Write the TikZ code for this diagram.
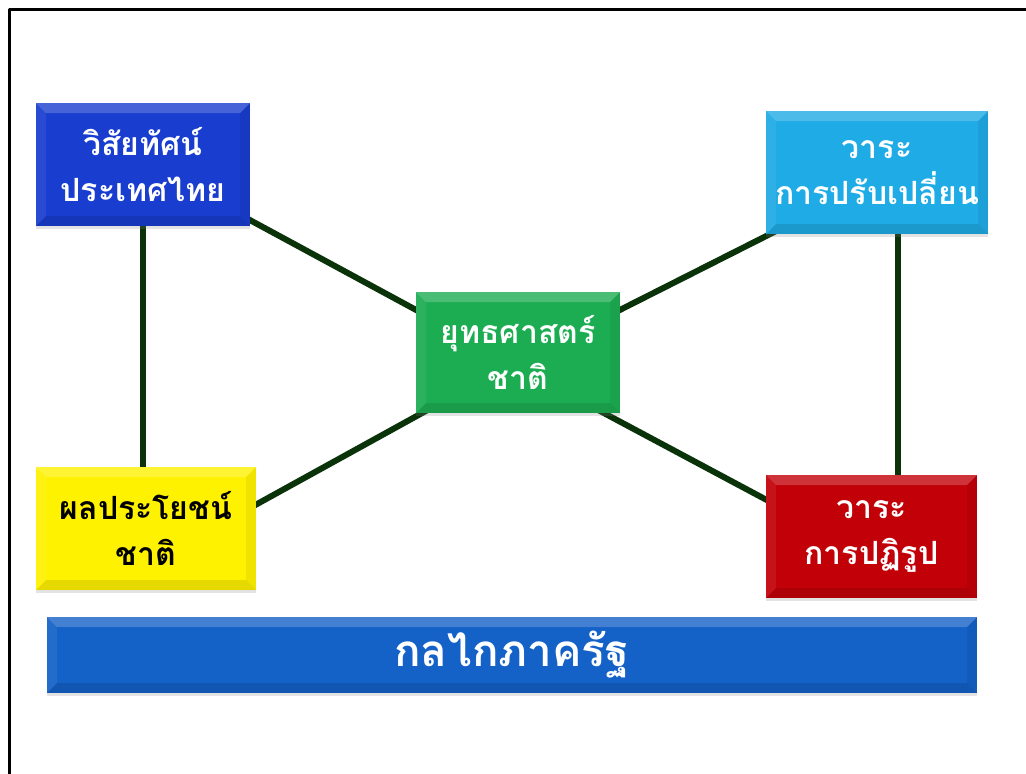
\documentclass[tikz,border=0pt]{standalone}
\usepackage{fontspec}
\usepackage{tikz}
\usetikzlibrary{calc}
\usetikzlibrary{shadows}
\usetikzlibrary{backgrounds}
\newfontfamily\thaifont[Script=Thai]{Loma}
\definecolor{qqzzcc}{rgb}{0.10,0.24,0.81}
\definecolor{qqaaee}{rgb}{0.12,0.67,0.90}
\definecolor{qqaass}{rgb}{0.11,0.68,0.32}
\definecolor{ffffqq}{rgb}{1.,0.95,0.}
\definecolor{ccqqqq}{rgb}{0.76,0.,0.03}
\definecolor{qqsscc}{rgb}{0.08,0.38,0.78}
\definecolor{qqzzqq}{rgb}{0.04,0.20,0.04}
\newcommand{\bevelfaces}{%
  \fill[white,opacity=.20] (path picture bounding box.north west) -- (path picture bounding box.north east) -- ([shift={(-10pt,-10pt)}]path picture bounding box.north east) -- ([shift={(10pt,-10pt)}]path picture bounding box.north west) -- cycle;
  \fill[black,opacity=.10] (path picture bounding box.south west) -- (path picture bounding box.south east) -- ([shift={(-10pt,10pt)}]path picture bounding box.south east) -- ([shift={(10pt,10pt)}]path picture bounding box.south west) -- cycle;
  \fill[white,opacity=.07] (path picture bounding box.north west) -- (path picture bounding box.south west) -- ([shift={(10pt,10pt)}]path picture bounding box.south west) -- ([shift={(10pt,-10pt)}]path picture bounding box.north west) -- cycle;
  \fill[black,opacity=.06] (path picture bounding box.north east) -- (path picture bounding box.south east) -- ([shift={(-10pt,10pt)}]path picture bounding box.south east) -- ([shift={(-10pt,-10pt)}]path picture bounding box.north east) -- cycle;
}
\tikzstyle{every node}=[font=\thaifont\bfseries]
\tikzstyle{tbox}=[rectangle,align=center,inner sep=0pt,text=white,path picture={\bevelfaces},drop shadow={shadow xshift=0pt,shadow yshift=-3pt,opacity=.22,fill=gray},font=\thaifont\bfseries\fontsize{32}{46}\selectfont]
\tikzstyle{link}=[line width=6pt,color=qqzzqq,shorten <=-8pt,shorten >=-8pt]

\begin{document}
\begin{tikzpicture}[line cap=butt,line join=round,x=1pt,y=-1pt]
\useasboundingbox (0,0) rectangle (1026,774);
\draw [line width=3pt] (9,790) -- (9,9) -- (1040,9);
\node [tbox,fill=qqzzcc,minimum width=214pt,minimum height=123pt] (vision) at (143,164.5) {วิสัยทัศน์\\ประเทศไทย};
\node [tbox,fill=qqaaee,minimum width=222pt,minimum height=123pt] (change) at (877,172.5) {วาระ\\การปรับเปลี่ยน};
\node [tbox,fill=qqaass,minimum width=204pt,minimum height=121pt] (strategy) at (518,352.5) {ยุทธศาสตร์\\ชาติ};
\node [tbox,fill=ffffqq,text=black,minimum width=220pt,minimum height=123pt] (benefit) at (146,528.5) {ผลประโยชน์\\ชาติ};
\node [tbox,fill=ccqqqq,minimum width=211pt,minimum height=123pt] (reform) at (871.5,536.5) {วาระ\\การปฏิรูป};
\node [tbox,fill=qqsscc,minimum width=930pt,minimum height=76pt,font=\thaifont\bfseries\fontsize{44}{50}\selectfont] (state) at (512,655) {กลไกภาครัฐ};
\begin{pgfonlayer}{background}
\draw [link] (vision.south) -- (vision.south |- benefit.north);
\draw [link] ($(change.south)+(21pt,0)$) -- ($(change.south |- reform.north)+(21pt,0)$);
\draw [link] ([yshift=6pt]vision.south east) -- ([yshift=-18pt]strategy.north west);
\draw [link] ([yshift=-18pt]strategy.north east) -- ([xshift=4pt]change.south west);
\draw [link] ([xshift=6pt]strategy.south west) -- ([yshift=24pt]benefit.east);
\draw [link] ([xshift=-16pt]strategy.south east) -- ([yshift=37pt]reform.west);
\end{pgfonlayer}
\end{tikzpicture}
\end{document}
